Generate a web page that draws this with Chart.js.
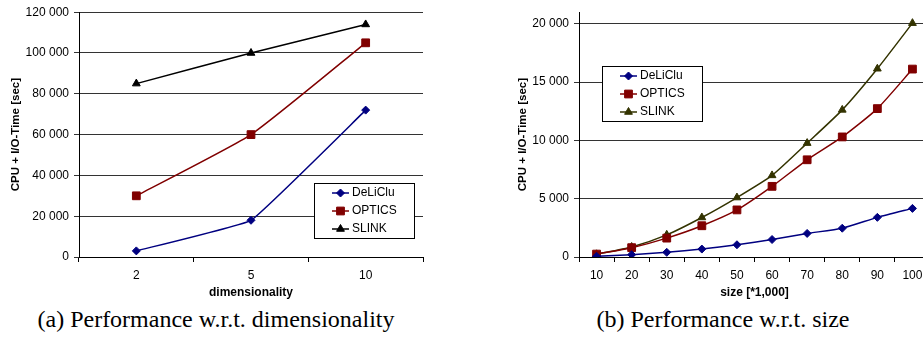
<!DOCTYPE html>
<html>
<head>
<meta charset="utf-8">
<script src="https://cdn.jsdelivr.net/npm/chart.js@4.4.0/dist/chart.umd.min.js"></script>
<style>
html, body { margin:0; padding:0; background:#fff; overflow:hidden; width:923px; height:337px; }
#c1 { position:absolute; left:0; top:0; }
#c2 { position:absolute; left:460px; top:0; }
.cap { position:absolute; top:306px; font-family:"Liberation Serif","Times New Roman",serif; font-size:24px; color:#000; white-space:nowrap; transform:translateX(-50%); }
</style>
</head>
<body>
<canvas id="c1" width="440" height="300"></canvas>
<canvas id="c2" width="480" height="300"></canvas>
<div class="cap" style="left:216px">(a) Performance w.r.t. dimensionality</div>
<div class="cap" style="left:723px">(b) Performance w.r.t. size</div>
<script>
// (a) dimensionality
const dimLabels = ['2', '5', '10'];
const dimDeLiClu = [3000, 18000, 72000];
const dimOptics = [30000, 60000, 105000];
const dimSlink = [85000, 100000, 114000];
const dimTicks = [0, 20000, 40000, 60000, 80000, 100000, 120000];

// (b) size
const sizeLabels = ['10', '20', '30', '40', '50', '60', '70', '80', '90', '100'];
const sizeDeLiClu = [60, 200, 400, 680, 1050, 1500, 2020, 2470, 3400, 4170];
const sizeOptics = [250, 800, 1620, 2680, 4040, 6060, 8340, 10300, 12730, 16120];
const sizeSlink = [230, 860, 1900, 3390, 5100, 7000, 9770, 12620, 16150, 20060];
const sizeTicks = [0, 5000, 10000, 15000, 20000];

const fontFam = '"Liberation Sans", Arial, sans-serif';

function fmt(v) {
  return String(v).replace(/\B(?=(\d{3})+(?!\d))/g, ' ');
}

// legend drawn as a boxed panel inside the plot, like the Excel original
const boxLegend = {
  id: 'boxLegend',
  afterDatasetsDraw(chart, args, opts) {
    const ctx = chart.ctx;
    const x = opts.x, y = opts.y, w = 100, h = 55;
    ctx.save();
    ctx.fillStyle = '#fff';
    ctx.fillRect(x, y, w, h);
    ctx.strokeStyle = '#000';
    ctx.lineWidth = 1;
    ctx.strokeRect(x + 0.5, y + 0.5, w, h);
    ctx.font = '12px ' + fontFam;
    ctx.textBaseline = 'middle';
    chart.data.datasets.forEach((ds, i) => {
      const ry = y + 10 + i * 18;
      ctx.strokeStyle = ds.borderColor;
      ctx.fillStyle = ds.backgroundColor;
      ctx.lineWidth = 1.5;
      ctx.beginPath();
      ctx.moveTo(x + 18, ry);
      ctx.lineTo(x + 35, ry);
      ctx.stroke();
      ctx.lineWidth = 1;
      Chart.helpers.drawPoint(ctx, { pointStyle: ds.pointStyle, radius: ds.pointRadius, borderWidth: 1, rotation: 0 }, x + 26.5, ry);
      ctx.fillStyle = '#000';
      ctx.fillText(ds.label, x + 38, ry);
    });
    ctx.restore();
  }
};

function series(label, data, color, style, r, tension) {
  return {
    label, data,
    borderColor: color, backgroundColor: color,
    pointBackgroundColor: color, pointBorderColor: color,
    pointStyle: style, pointRadius: r, pointBorderWidth: 1,
    borderWidth: 1.5, tension: tension, fill: false
  };
}

function makeChart(id, labels, sets, yMax, ticks, xTitle, pad, titlePad, legendPos) {
  return new Chart(id, {
    type: 'line',
    data: { labels, datasets: sets },
    plugins: [boxLegend],
    options: {
      responsive: false,
      animation: false,
      layout: { padding: pad },
      plugins: {
        legend: { display: false },
        tooltip: { enabled: false },
        boxLegend: legendPos
      },
      scales: {
        x: {
          offset: true,
          grid: { offset: true, drawOnChartArea: false, drawTicks: true, tickLength: 5, color: '#000' },
          border: { color: '#000', width: 1 },
          ticks: { color: '#000', padding: 6, maxRotation: 0, font: { family: fontFam, size: 12 } },
          title: { display: true, text: xTitle, color: '#000', padding: { top: 2, bottom: 0 }, font: { family: fontFam, size: 12, weight: 'bold' } },
          afterFit(s) { s.height = 43; }
        },
        y: {
          min: 0, max: yMax,
          afterBuildTicks(s) { s.ticks = ticks.map(v => ({ value: v })); },
          grid: { color: '#333', lineWidth: 1, drawTicks: true, tickLength: 5 },
          border: { color: '#000', width: 1 },
          ticks: { color: '#000', padding: 5, font: { family: fontFam, size: 12 }, callback: v => fmt(v) },
          title: { display: true, text: 'CPU + I/O-Time [sec]', color: '#000', padding: { top: titlePad, bottom: 0 }, font: { family: fontFam, size: 11.5, weight: 'bold' } },
          afterFit(s) { s.width = 79; }
        }
      }
    }
  });
}

makeChart('c1', dimLabels, [
  series('DeLiClu', dimDeLiClu, '#000080', 'rectRot', 4, 0.08),
  series('OPTICS', dimOptics, '#800000', 'rect', 5.5, 0.15),
  series('SLINK', dimSlink, '#000000', 'triangle', 4.5, 0.1)
], 120000, dimTicks, 'dimensionality', { top: 12, right: 17, left: 0, bottom: 0 }, 9, { x: 314, y: 183 });

makeChart('c2', sizeLabels, [
  series('DeLiClu', sizeDeLiClu, '#000080', 'rectRot', 4, 0.2),
  series('OPTICS', sizeOptics, '#800000', 'rect', 5.5, 0.2),
  series('SLINK', sizeSlink, '#333300', 'triangle', 4.5, 0.2)
], 21000, sizeTicks, 'size [*1,000]', { top: 12, right: 10, left: 40, bottom: 0 }, 16, { x: 142, y: 66 });
</script>
</body>
</html>
